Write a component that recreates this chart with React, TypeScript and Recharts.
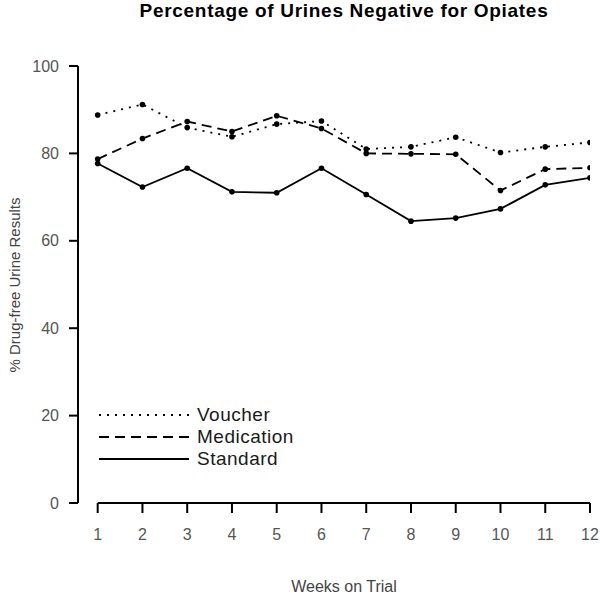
import { LineChart, Line, XAxis, YAxis, ReferenceLine } from 'recharts'

const weeks = [1, 2, 3, 4, 5, 6, 7, 8, 9, 10, 11, 12]
const voucher = [88.8, 91.2, 85.9, 83.8, 86.7, 87.4, 81.0, 81.5, 83.7, 80.2, 81.5, 82.5]
const medication = [78.7, 83.4, 87.3, 85.0, 88.6, 85.7, 80.0, 79.9, 79.8, 71.5, 76.4, 76.7]
const standard = [77.7, 72.3, 76.6, 71.2, 71.0, 76.6, 70.6, 64.5, 65.2, 67.3, 72.8, 74.4]
const yTicks = [0, 20, 40, 60, 80, 100]

const FONT = '"Liberation Sans", Arial, sans-serif'

const series = [
  { key: 'voucher', name: 'Voucher', dash: '2 6' },
  { key: 'medication', name: 'Medication', dash: '10 6' },
  { key: 'standard', name: 'Standard', dash: undefined },
]

const data = weeks.map((w, i) => ({
  week: w,
  voucher: voucher[i],
  medication: medication[i],
  standard: standard[i],
}))

const Dot = (props: any) => {
  const { cx, cy, index } = props
  if (cx == null || cy == null) return <g key={index} />
  return <circle key={index} cx={cx} cy={cy} r={2.8} fill="#000" stroke="none" />
}

// legend drawn as an overlay so it doesn't shrink the plot area
const LegendBox = () => (
  <div style={{ position: 'absolute', left: 98, top: 404, fontFamily: FONT }}>
    {series.map(s => (
      <div key={s.key} style={{ display: 'flex', alignItems: 'center', height: 22 }}>
        <svg width={92} height={22}>
          <line x1={1} y1={11} x2={91} y2={11} stroke="#000" strokeWidth={2} strokeDasharray={s.dash} />
        </svg>
        <span style={{ marginLeft: 7, fontSize: 19, letterSpacing: 0.5, color: '#1a1a1a' }}>{s.name}</span>
      </div>
    ))}
  </div>
)

export default function App() {
  return (
    <div style={{ position: 'absolute', left: 0, top: 0, width: 601, height: 600, background: '#fff', fontFamily: FONT }}>
      <div style={{ position: 'absolute', left: 78, width: 532, top: 0, textAlign: 'center', fontSize: 19, letterSpacing: 0.7, fontWeight: 'bold', color: '#000' }}>
        Percentage of Urines Negative for Opiates
      </div>
      <div style={{ position: 'absolute', left: 78, width: 532, top: 578, textAlign: 'center', fontSize: 16, color: '#444' }}>
        Weeks on Trial
      </div>
      <div style={{ position: 'absolute', left: 14, top: 285, width: 0, height: 0 }}>
        <div style={{ position: 'absolute', transform: 'translate(-50%, -50%) rotate(-90deg)', whiteSpace: 'nowrap', fontSize: 15, color: '#444' }}>
          % Drug-free Urine Results
        </div>
      </div>
      <LineChart width={601} height={600} data={data} margin={{ top: 66, right: 11, bottom: 0, left: 0 }}>
        <XAxis
          dataKey="week"
          type="number"
          domain={[0.56, 12]}
          ticks={weeks}
          allowDataOverflow
          height={97}
          axisLine={false}
          tickSize={10}
          tickMargin={16}
          tickLine={{ stroke: '#000', strokeWidth: 2 }}
          tick={{ fill: '#555', fontSize: 16, fontFamily: FONT }}
        />
        <YAxis
          type="number"
          domain={[0, 100]}
          ticks={yTicks}
          width={78}
          axisLine={{ stroke: '#000', strokeWidth: 2 }}
          tickSize={9}
          tickMargin={10}
          tickLine={{ stroke: '#000', strokeWidth: 2 }}
          tick={{ fill: '#555', fontSize: 16, fontFamily: FONT }}
        />
        <ReferenceLine
          segment={[{ x: 1, y: 0 }, { x: 12, y: 0 }]}
          stroke="#000"
          strokeWidth={2}
          ifOverflow="visible"
        />
        {series.map(s => (
          <Line
            key={s.key}
            type="linear"
            dataKey={s.key}
            name={s.name}
            stroke="#000"
            strokeWidth={1.8}
            strokeDasharray={s.dash}
            dot={<Dot />}
            activeDot={false}
            isAnimationActive={false}
          />
        ))}
      </LineChart>
      <LegendBox />
    </div>
  )
}
